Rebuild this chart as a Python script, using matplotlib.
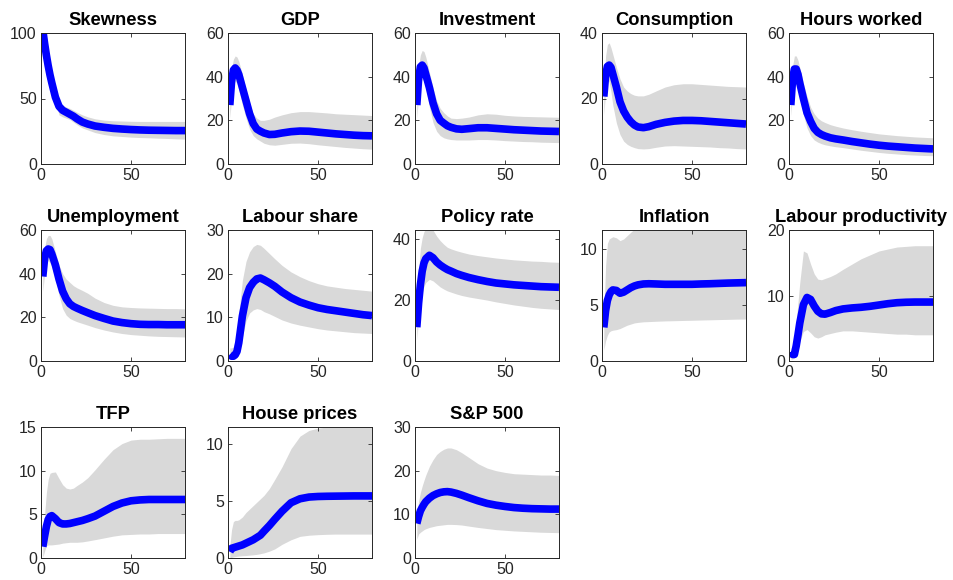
import matplotlib
matplotlib.use("Agg")
import matplotlib.pyplot as plt

# ---------------- data ----------------
horizon = [1, 2, 3, 4, 5, 6, 8, 10, 12, 14, 16, 18, 20, 23, 26, 30, 35, 40, 45, 50, 55, 60, 65, 70, 75, 80]

titles = ["Skewness", "GDP", "Investment", "Consumption", "Hours worked",
          "Unemployment", "Labour share", "Policy rate", "Inflation", "Labour productivity",
          "TFP", "House prices", "S&P 500"]

skew_med = [102, 92, 83, 75, 68, 62, 51, 44, 41, 39.5, 38, 36.5, 34.5, 32, 30.5, 29, 28, 27.2, 26.7, 26.3, 26, 25.8, 25.7, 25.6, 25.5, 25.5]
skew_up = [103, 94, 85, 77, 70, 64, 53, 46.5, 45, 43.5, 42.5, 41, 39.5, 37.5, 36, 34.5, 33.5, 33, 32.8, 32.6, 32.5, 32.5, 32.5, 32.5, 32.5, 32.5]
skew_lo = [101, 90, 81, 73, 66, 59, 48, 37.5, 36, 35, 34, 32, 30, 27.5, 26, 24, 22.5, 21.5, 21, 20.5, 20.2, 20, 19.7, 19.5, 19.2, 19]

gdp_med = [27, 38, 43, 44, 43, 41, 35, 29, 23, 18.5, 16, 15, 14.2, 13.5, 13.6, 14.2, 14.8, 15.1, 15, 14.6, 14.2, 13.8, 13.5, 13.2, 13, 12.9]
gdp_up = [30, 44, 48, 49.5, 49, 47, 41, 34, 28, 23, 21, 20, 20, 20.5, 21.5, 22.5, 23.5, 24, 24, 23.7, 23.4, 23, 22.8, 22.6, 22.4, 22.2]
gdp_lo = [21, 30, 36, 38, 37, 34, 27, 21, 16, 13, 11.5, 10.5, 9.5, 8.8, 8.6, 9, 9.5, 9.6, 9.3, 8.8, 8.4, 8, 7.6, 7.3, 7, 6.8]

inv_med = [27, 39, 44.5, 45.3, 44, 41, 35, 28, 23, 20, 18.7, 17.5, 16.8, 16.1, 15.9, 16.2, 16.6, 16.6, 16.3, 16, 15.7, 15.5, 15.3, 15.1, 15, 14.9]
inv_up = [30, 45, 50, 52, 51.5, 49, 42, 35, 29, 25.5, 23.5, 22, 21, 20.8, 21, 21.5, 22.5, 23, 22.8, 22.3, 22, 21.8, 21.7, 21.6, 21.5, 21.4]
inv_lo = [21, 31, 37, 39, 38, 35, 26, 19, 15, 13, 12, 11.5, 11.2, 11, 11, 11, 11.2, 11.2, 11, 10.7, 10.5, 10.3, 10.2, 10, 9.9, 9.8]

cons_med = [20.6, 27, 29.8, 30.2, 29.5, 27.5, 23.5, 19, 16.2, 14.3, 12.9, 11.9, 11.3, 11.1, 11.4, 12.1, 12.7, 13.1, 13.3, 13.3, 13.2, 13, 12.8, 12.6, 12.4, 12.2]
cons_up = [23, 33, 36.5, 37, 35.5, 33.5, 29.5, 26, 23.5, 22.3, 21.5, 21, 20.8, 20.8, 21.3, 22.3, 23.5, 24.2, 24.5, 24.5, 24.3, 24.1, 23.9, 23.7, 23.6, 23.5]
cons_lo = [15, 22, 26, 25, 22, 18, 12.5, 9, 7, 6, 5.4, 5, 4.7, 4.6, 4.7, 5.1, 5.5, 5.6, 5.5, 5.4, 5.3, 5.2, 5, 4.9, 4.7, 4.6]

hours_med = [27, 39, 43.5, 43.5, 41, 37, 30, 23.5, 19.5, 16.3, 14.5, 13.5, 12.8, 12, 11.5, 11, 10.3, 9.7, 9.1, 8.6, 8.2, 7.9, 7.6, 7.3, 7.1, 6.9]
hours_up = [30, 45, 49.5, 49.5, 47.5, 44, 37, 31, 26, 23, 21, 19.8, 19, 18, 17.3, 16.5, 15.7, 15, 14.4, 13.8, 13.4, 13, 12.7, 12.4, 12.2, 12]
hours_lo = [22, 32, 37, 37, 34, 30, 22.5, 16.5, 13, 11, 10, 9.3, 8.8, 8.3, 7.9, 7.5, 6.9, 6.3, 5.8, 5.3, 4.9, 4.6, 4.3, 4.1, 3.9, 3.8]

unemp_med = [38.7, 47, 50.5, 51.3, 51, 49, 44, 37.5, 32, 28.5, 26.2, 25, 24.2, 23.1, 22.1, 20.8, 19.5, 18.3, 17.6, 17.1, 16.8, 16.7, 16.7, 16.6, 16.6, 16.6]
unemp_up = [40, 52, 56, 57.5, 57.5, 56, 50, 44, 40, 37.5, 36, 34.5, 33.5, 32.3, 31, 28.8, 26.8, 25.5, 24.8, 24.5, 24.3, 24.2, 24.1, 24, 24, 23.9]
unemp_lo = [32, 40, 45, 46, 45, 43, 38, 30, 24, 21, 19.5, 18.7, 18, 17.2, 16.4, 15.3, 14.2, 13.3, 12.6, 12.1, 11.8, 11.5, 11.3, 11.2, 11.1, 11]

lshare_med = [1.5, 1.1, 1.1, 1.4, 2.2, 4.2, 10.3, 14.5, 16.8, 18.0, 18.8, 19, 18.6, 17.9, 17.1, 15.8, 14.5, 13.5, 12.8, 12.2, 11.8, 11.5, 11.2, 10.9, 10.6, 10.4]
lshare_up = [3, 3, 3.2, 4.5, 7, 11, 18.5, 22.8, 25, 26.2, 26.7, 26.5, 25.8, 24.6, 23.4, 21.9, 20.4, 19.3, 18.4, 17.7, 17.2, 16.9, 16.6, 16.4, 16.2, 16]
lshare_lo = [0.5, 0.5, 0.5, 0.7, 1.2, 2.2, 5.5, 9.2, 11, 11.7, 12, 11.8, 11.3, 10.8, 10.2, 9.4, 8.7, 8.2, 7.8, 7.4, 7.1, 6.9, 6.7, 6.5, 6.4, 6.3]

policy_med = [11.1, 19, 25, 29.5, 32.2, 33.6, 34.7, 33.9, 32.5, 31.5, 30.7, 30, 29.5, 28.7, 28.1, 27.4, 26.7, 26.1, 25.6, 25.3, 25, 24.8, 24.6, 24.4, 24.3, 24.2]
policy_up = [13, 30, 37, 40.5, 42.5, 43.5, 44, 43, 41, 39.5, 38.3, 37.3, 36.8, 36.2, 35.7, 35.1, 34.6, 34.2, 33.8, 33.5, 33.2, 33, 32.8, 32.7, 32.5, 32.4]
policy_lo = [7, 14, 19, 22.5, 24.5, 25.8, 26.8, 26.3, 25.3, 24.3, 23.6, 23, 22.6, 22, 21.5, 21, 20.5, 20, 19.4, 18.9, 18.4, 18, 17.6, 17.3, 17.1, 16.9]

infl_med = [3.0, 4.5, 5.4, 5.9, 6.2, 6.35, 6.3, 6.05, 6.15, 6.35, 6.55, 6.7, 6.8, 6.88, 6.9, 6.88, 6.85, 6.85, 6.85, 6.85, 6.88, 6.9, 6.93, 6.96, 6.98, 7.0]
infl_up = [4, 8.5, 10.5, 10.9, 11.0, 11.1, 11.0, 10.75, 10.9, 11.2, 11.5, 11.8, 12.1, 12.4, 12.6, 12.8, 12.9, 13, 13, 13, 13, 13, 13, 13, 13, 13]
infl_lo = [1.0, 1.8, 2.3, 2.6, 2.7, 2.75, 2.8, 2.9, 3.05, 3.2, 3.3, 3.4, 3.45, 3.5, 3.52, 3.55, 3.58, 3.6, 3.62, 3.64, 3.66, 3.68, 3.7, 3.72, 3.74, 3.75]

lprod_med = [1.4, 1.0, 1.0, 2.3, 4.0, 5.8, 8.6, 9.7, 9.4, 8.4, 7.6, 7.2, 7.15, 7.4, 7.7, 7.95, 8.1, 8.2, 8.35, 8.55, 8.75, 8.9, 8.97, 9.0, 9.0, 9.0]
lprod_up = [2, 2, 3, 6, 9, 12, 16.8, 16.5, 14.8, 13.3, 12.5, 12.4, 12.6, 12.9, 13.3, 14, 14.8, 15.6, 16.2, 16.8, 17.1, 17.4, 17.5, 17.6, 17.6, 17.6]
lprod_lo = [0.3, 0.3, 0.5, 1.3, 2.2, 3, 4.5, 4.8, 4.3, 3.7, 3.5, 3.7, 4.0, 4.2, 4.4, 4.6, 4.6, 4.5, 4.4, 4.3, 4.2, 4.1, 4.1, 4.0, 4.0, 4.0]

tfp_med = [1.3, 2.5, 3.6, 4.4, 4.75, 4.85, 4.5, 4.05, 3.9, 3.9, 3.95, 4.05, 4.15, 4.3, 4.5, 4.8, 5.35, 5.9, 6.3, 6.55, 6.65, 6.7, 6.7, 6.7, 6.7, 6.7]
tfp_up = [1.5, 5, 7.5, 9, 9.7, 9.8, 9.85, 9.1, 8.4, 8.0, 7.9, 8.0, 8.3, 8.7, 9.2, 10.1, 11.3, 12.4, 13.1, 13.5, 13.6, 13.6, 13.65, 13.7, 13.7, 13.7]
tfp_lo = [0.1, 0.8, 1.4, 1.5, 1.5, 1.5, 1.55, 1.6, 1.7, 1.75, 1.8, 1.8, 1.8, 1.85, 1.95, 2.1, 2.3, 2.5, 2.65, 2.7, 2.75, 2.75, 2.8, 2.8, 2.8, 2.8]

house_med = [0.55, 0.85, 0.9, 0.95, 1.0, 1.05, 1.15, 1.3, 1.45, 1.6, 1.8, 2.0, 2.35, 2.85, 3.4, 4.1, 4.85, 5.2, 5.35, 5.4, 5.42, 5.43, 5.44, 5.45, 5.45, 5.45]
house_up = [1.0, 2.5, 3.2, 3.3, 3.3, 3.35, 3.6, 4.0, 4.3, 4.6, 4.9, 5.2, 5.5, 6.1, 6.9, 8.0, 9.6, 10.7, 11.2, 11.4, 11.5, 11.6, 11.6, 11.6, 11.6, 11.6]
house_lo = [0, 0.05, 0.1, 0.12, 0.15, 0.17, 0.2, 0.22, 0.25, 0.28, 0.32, 0.38, 0.45, 0.6, 0.8, 1.2, 1.6, 1.9, 2.0, 2.05, 2.08, 2.1, 2.1, 2.1, 2.1, 2.1]

sp_med = [7.9, 9.5, 10.8, 11.6, 12.3, 12.9, 13.7, 14.3, 14.7, 15.0, 15.15, 15.2, 15.1, 14.8, 14.4, 13.8, 13.1, 12.5, 12.1, 11.8, 11.55, 11.4, 11.3, 11.25, 11.2, 11.2]
sp_up = [10, 13, 15, 16.5, 17.8, 19, 21, 22.5, 23.7, 24.4, 24.9, 25.2, 25.2, 24.8, 24.1, 23, 21.6, 20.6, 20, 19.6, 19.3, 19.2, 19.1, 19, 19, 18.9]
sp_lo = [4.3, 5.5, 5.9, 6.2, 6.5, 6.7, 7.0, 7.2, 7.4, 7.5, 7.6, 7.7, 7.7, 7.65, 7.55, 7.3, 7.0, 6.75, 6.5, 6.35, 6.2, 6.1, 6.0, 5.9, 5.85, 5.8]

medians = [skew_med, gdp_med, inv_med, cons_med, hours_med, unemp_med, lshare_med,
           policy_med, infl_med, lprod_med, tfp_med, house_med, sp_med]
uppers = [skew_up, gdp_up, inv_up, cons_up, hours_up, unemp_up, lshare_up,
          policy_up, infl_up, lprod_up, tfp_up, house_up, sp_up]
lowers = [skew_lo, gdp_lo, inv_lo, cons_lo, hours_lo, unemp_lo, lshare_lo,
          policy_lo, infl_lo, lprod_lo, tfp_lo, house_lo, sp_lo]

ytops = [100, 60, 60, 40, 60, 60, 30, 43, 11.7, 20, 15, 11.5, 30]
yticks = [[0, 50, 100], [0, 20, 40, 60], [0, 20, 40, 60], [0, 20, 40], [0, 20, 40, 60],
          [0, 20, 40, 60], [0, 10, 20, 30], [0, 20, 40], [0, 5, 10], [0, 10, 20],
          [0, 5, 10, 15], [0, 5, 10], [0, 10, 20, 30]]
xticks = [0, 50]
xmax = 80

# ---------------- layout ----------------
W, H = 954, 580
fig = plt.figure(figsize=(W / 100, H / 100), dpi=100)
plt.rcParams['font.family'] = ['Liberation Sans', 'DejaVu Sans']

lefts = [41, 228, 415, 602, 789]
bottoms = [164, 361, 558]
aw, ah = 144, 131
axc = (0.15, 0.15, 0.15)

for i, name in enumerate(titles):
    r, c = divmod(i, 5)
    ax = fig.add_axes([lefts[c] / W, 1 - bottoms[r] / H, aw / W, ah / H])
    ax.fill_between(horizon, lowers[i], uppers[i], color='#d9d9d9', linewidth=0)
    ax.plot(horizon, medians[i], color=(0, 0, 1), linewidth=5.5,
            solid_capstyle='butt', solid_joinstyle='round')
    ax.set_xlim(0, xmax)
    ax.set_ylim(0, ytops[i])
    ax.set_xticks(xticks)
    ax.set_yticks(yticks[i])
    ax.tick_params(direction='in', length=3, width=0.6, colors=axc,
                   labelsize=11.5, top=True, right=True, pad=3)
    for sp in ax.spines.values():
        sp.set_color(axc)
        sp.set_linewidth(0.7)
    ax.set_title(name, fontsize=13.2, fontweight='bold', pad=5.5, color='black')

fig.savefig("out.png", dpi=100)
